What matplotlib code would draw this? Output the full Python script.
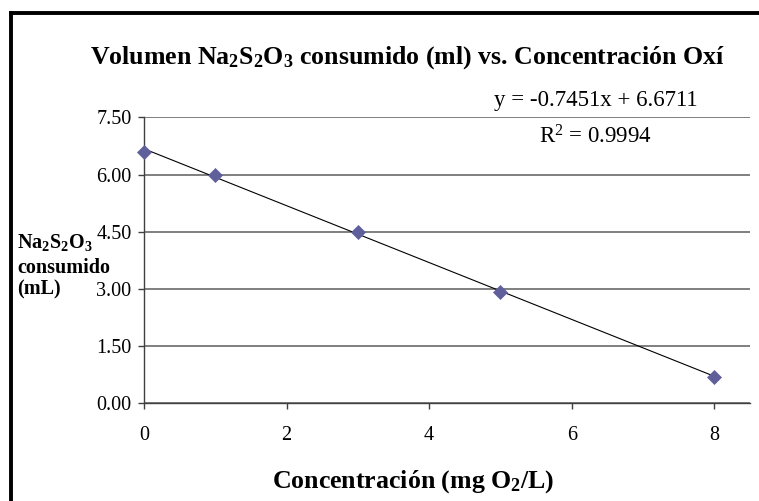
import numpy as np
import matplotlib
matplotlib.use("Agg")
import matplotlib.pyplot as plt
from matplotlib.lines import Line2D

plt.rcParams['font.family'] = ['Liberation Serif', 'DejaVu Serif']
plt.rcParams['mathtext.default'] = 'regular'

# ---- data ----
conc = [0, 1, 3, 5, 8]
volume = [6.58, 6.00, 4.50, 2.92, 0.69]
y_ticks = [0.0, 1.5, 3.0, 4.5, 6.0, 7.5]
x_ticks = [0, 2, 4, 6, 8]
title = "Volumen Na$_2$S$_2$O$_3$ consumido (ml) vs. Concentración Oxí"
xlabel = "Concentración (mg O$_2$/L)"
ylabel_lines = ["Na$_2$S$_2$O$_3$", "consumido", "(mL)"]
eq_text = "y = -0.7451x + 6.6711"
r2_text = "R$^2$ = 0.9994"

W, H = 759, 501
fig = plt.figure(figsize=(W / 100, H / 100), dpi=100)
fig.patch.set_facecolor('white')

ax = fig.add_axes([144 / W, 1 - 403.3 / H, (750 - 144) / W, (403.3 - 117.3) / H])
ax.set_xlim(0, 8.5)
ax.set_ylim(0, 7.5)

# gridlines
ax.set_yticks(y_ticks)
ax.set_yticklabels([f"{v:.2f}" for v in y_ticks])
ax.set_xticks(x_ticks)
ax.yaxis.grid(True, color='#6a6a6a', linewidth=1.2)
ax.set_axisbelow(True)

for s in ['top', 'right']:
    ax.spines[s].set_visible(False)
for s in ['left', 'bottom']:
    ax.spines[s].set_color('#404040')
    ax.spines[s].set_linewidth(1.0)

ax.tick_params(axis='both', direction='out', length=4.5, width=1.0, color='#404040',
               labelsize=14.5, labelcolor='black')
ax.tick_params(axis='x', pad=11.5)
ax.tick_params(axis='y', pad=4.5)

# trendline from least squares fit
coef = np.polyfit(conc, volume, 1)
xt = np.array([min(conc), max(conc)])
ax.plot(xt, np.polyval(coef, xt), color='black', linewidth=0.8, zorder=3)

ax.plot(conc, volume, linestyle='none', marker='D', markersize=6.8,
        markerfacecolor='#5f5f9c', markeredgecolor='#5f5f9c', markeredgewidth=0.5,
        zorder=4, clip_on=False)

# texts
fig.text(407 / W, 1 - 63.3 / H, title, ha='center', va='baseline',
         fontsize=18.6, fontweight='bold')
fig.text(413 / W, 1 - 488 / H, xlabel, ha='center', va='baseline',
         fontsize=18.6, fontweight='bold')
for line, yb in zip(ylabel_lines, [248, 272.7, 294]):
    fig.text(17 / W, 1 - yb / H, line, ha='left', va='baseline',
             fontsize=14.5, fontweight='bold')
fig.text(698 / W, 1 - 106 / H, eq_text, ha='right', va='baseline', fontsize=16.5)
fig.text(539 / W, 1 - 144 / H, r2_text, ha='left', va='baseline', fontsize=16.5)

# chart frame (cropped at right and bottom)
fig.add_artist(Line2D([11 / W, 11 / W], [-0.05, 1 - 13.3 / H], color='black',
                      linewidth=2.8, transform=fig.transFigure, solid_capstyle='projecting'))
fig.add_artist(Line2D([11 / W, 1.05], [1 - 13.3 / H, 1 - 13.3 / H], color='black',
                      linewidth=2.8, transform=fig.transFigure, solid_capstyle='projecting'))

fig.savefig("out.png", dpi=100)
